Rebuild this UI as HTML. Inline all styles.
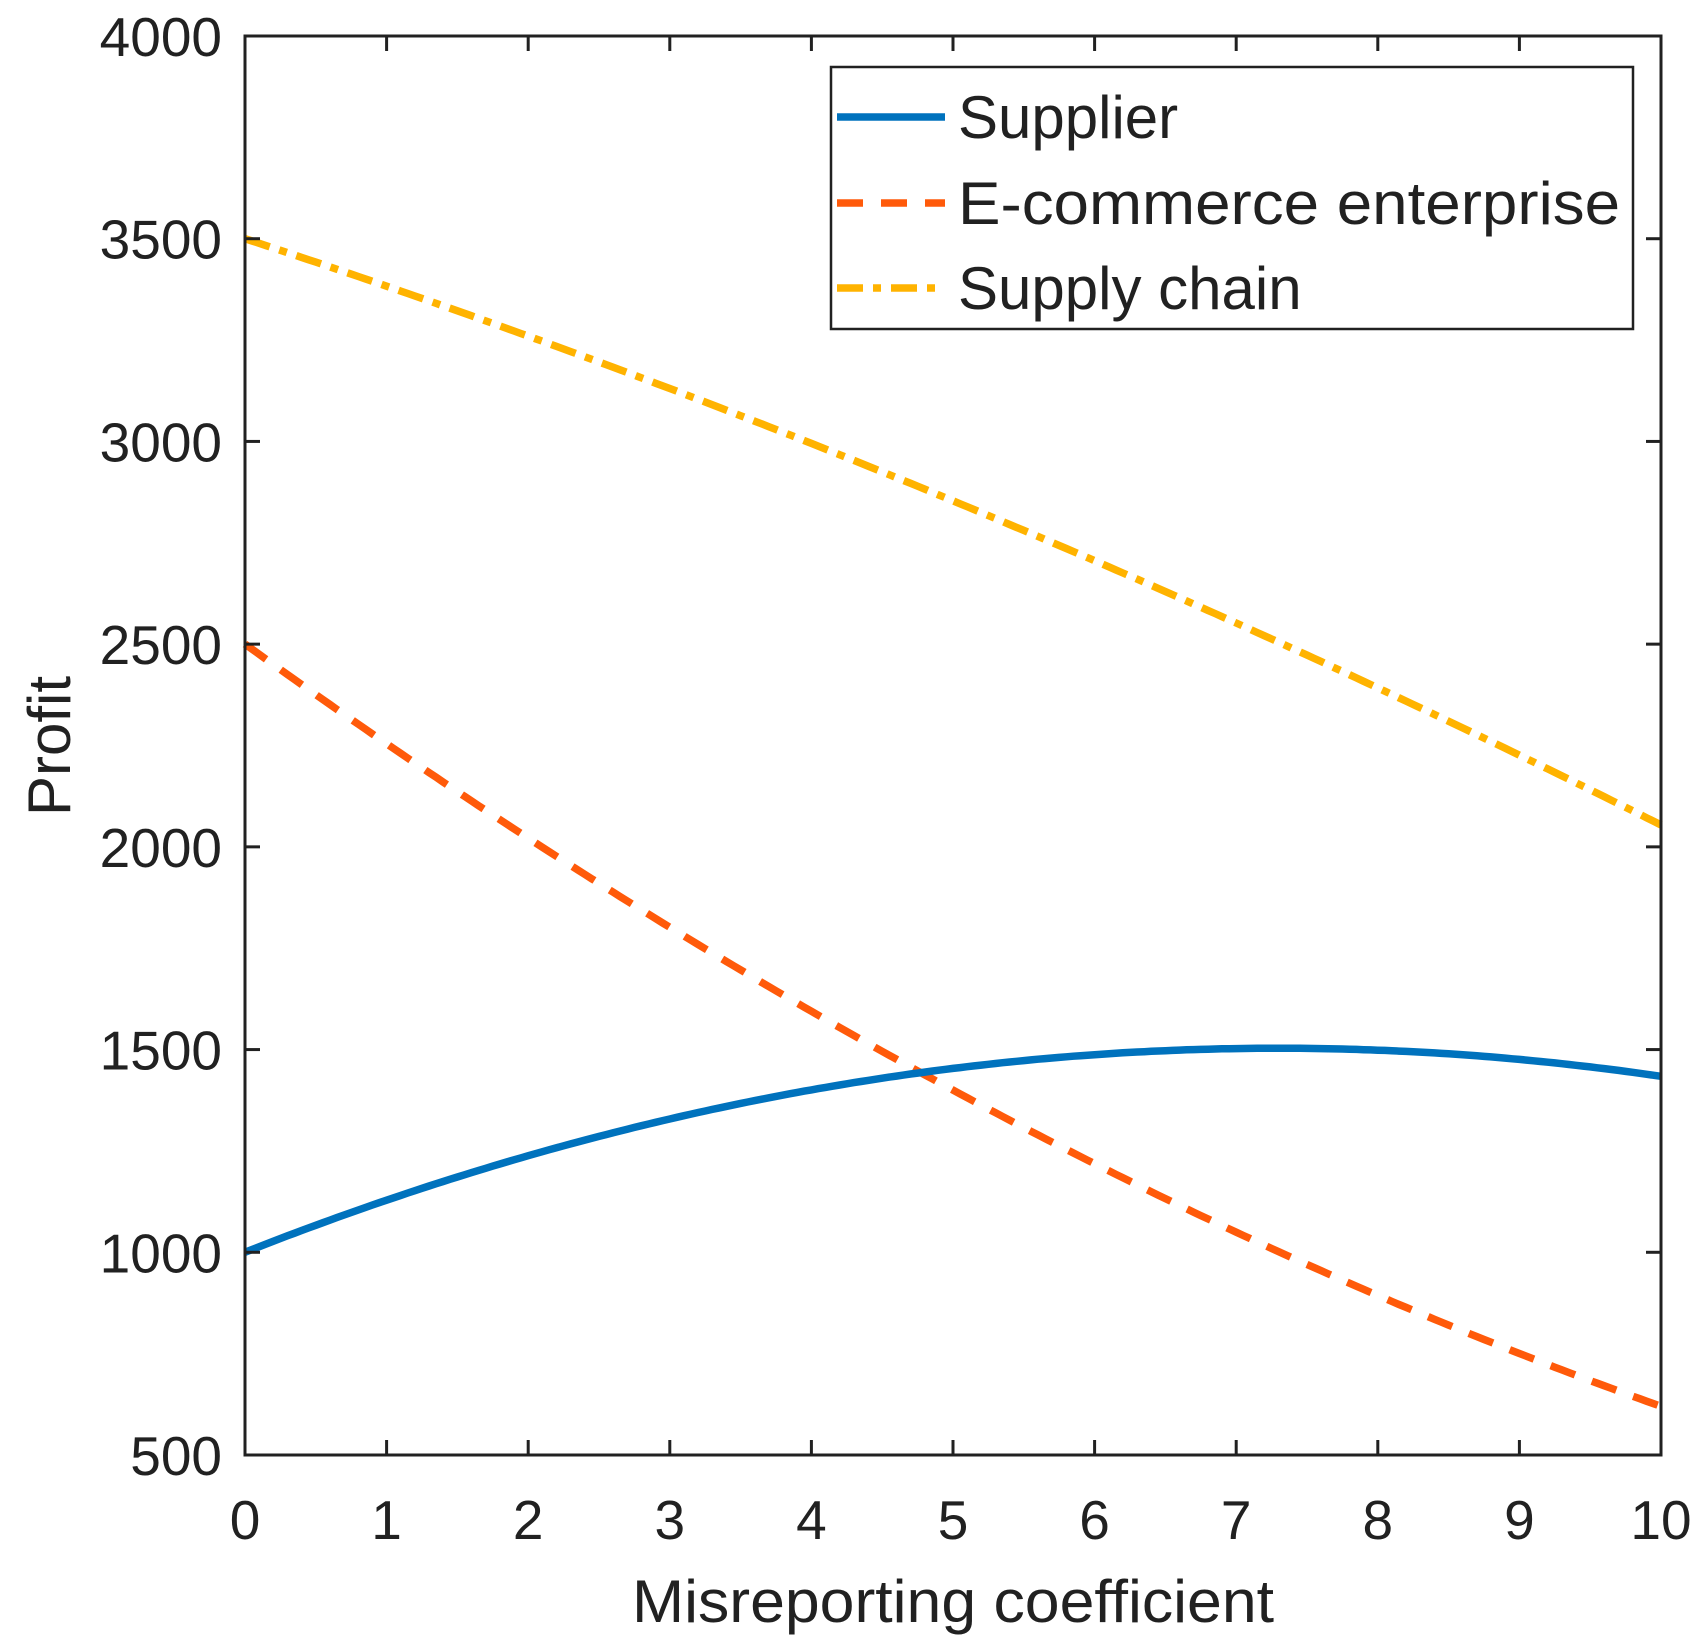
<!DOCTYPE html>
<html><head><meta charset="utf-8"><style>html,body{margin:0;padding:0;background:#fff}svg{display:block}</style></head>
<body>
<svg width="1702" height="1640" viewBox="0 0 1702 1640" xmlns="http://www.w3.org/2000/svg" font-family="Liberation Sans, Arial, sans-serif" fill="#212121">
<rect width="1702" height="1640" fill="#fff"/>
<g id="plot"></g>
<script>
(function(){
var L=245,T=36,R=1661,B=1455;
function X(x){return L+(R-L)*x/10;}
function Y(v){return B-(v-500)*(B-T)/3500;}
function s(x){return 1000+138*x-9.46*x*x;}
function e(x){return 2500-252*x+6.4*x*x;}
function c(x){return s(x)+e(x);}
function path(f){var d='';for(var i=0;i<=200;i++){var x=i/20;d+=(i?'L':'M')+X(x).toFixed(1)+','+Y(f(x)).toFixed(1);}return d;}
var g=document.getElementById('plot'),ns='http://www.w3.org/2000/svg';
function el(t,a,txt){var n=document.createElementNS(ns,t);for(var k in a)n.setAttribute(k,a[k]);if(txt!=null)n.textContent=txt;g.appendChild(n);return n;}
el('path',{d:path(c),fill:'none',stroke:'#FFB300','stroke-width':7.5,'stroke-dasharray':'26,10,8,10'});
el('path',{d:path(e),fill:'none',stroke:'#FF5A0A','stroke-width':7.5,'stroke-dasharray':'26,18'});
el('path',{d:path(s),fill:'none',stroke:'#0072BD','stroke-width':7.5});
el('rect',{x:L,y:T,width:R-L,height:B-T,fill:'none',stroke:'#212121','stroke-width':3});
for(var i=0;i<=10;i++){var x=X(i);
el('line',{x1:x,y1:B,x2:x,y2:B-15,stroke:'#212121','stroke-width':3});
el('line',{x1:x,y1:T,x2:x,y2:T+15,stroke:'#212121','stroke-width':3});
el('text',{x:x,y:1539,'font-size':55,'text-anchor':'middle'},String(i));}
for(var v=500;v<=4000;v+=500){var y=Y(v);
el('line',{x1:L,y1:y,x2:L+15,y2:y,stroke:'#212121','stroke-width':3});
el('line',{x1:R,y1:y,x2:R-15,y2:y,stroke:'#212121','stroke-width':3});
el('text',{x:222,y:y+20,'font-size':55,'text-anchor':'end'},String(v));}
el('text',{x:953,y:1622,'font-size':60,'text-anchor':'middle',textLength:642,lengthAdjust:'spacingAndGlyphs'},'Misreporting coefficient');
el('text',{x:0,y:0,'font-size':60,'text-anchor':'middle',transform:'translate(70,746) rotate(-90)'},'Profit');
el('rect',{x:831,y:67,width:802,height:262,fill:'#fff',stroke:'#212121','stroke-width':2.5});
var rows=[[117,'#0072BD',null,'Supplier',null],[203,'#FF5A0A','26,18','E-commerce enterprise',662],[288,'#FFB300','26,10,8,10','Supply chain',null]];
rows.forEach(function(r){var a={x1:837,y1:r[0],x2:945,y2:r[0],stroke:r[1],'stroke-width':7.5};if(r[2])a['stroke-dasharray']=r[2];el('line',a);
var t={x:958,y:r[0]+21,'font-size':60};if(r[4]){t.textLength=r[4];t.lengthAdjust='spacingAndGlyphs';}el('text',t,r[3]);});
})();
</script>
</svg>
</body></html>
